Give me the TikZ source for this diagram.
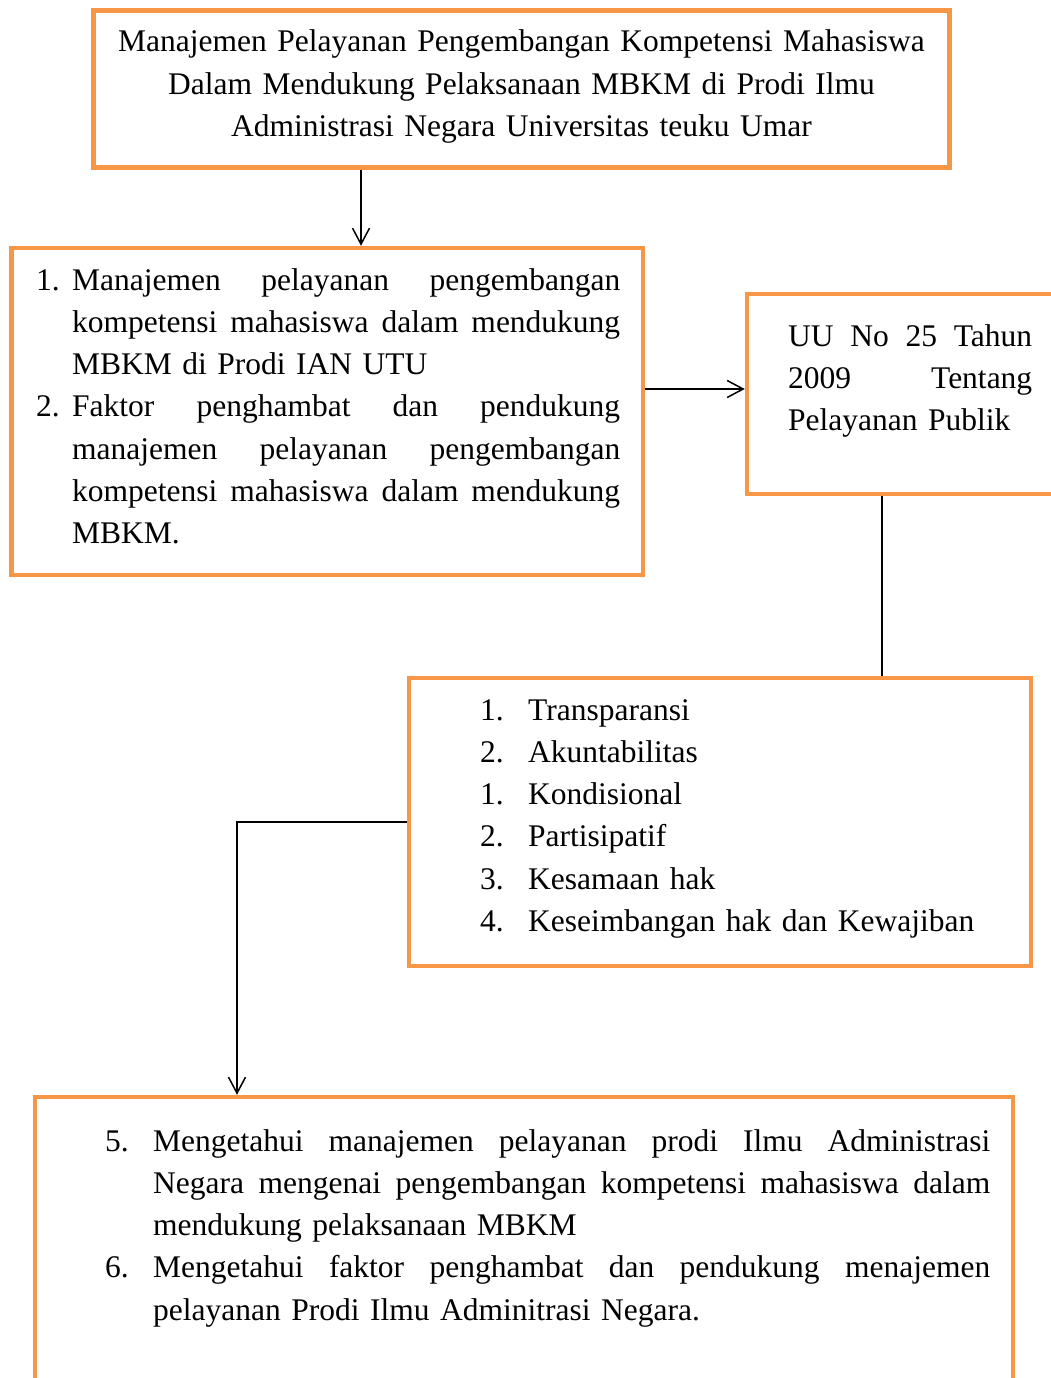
\documentclass[tikz,border=0pt]{standalone}
\usepackage{fontspec}
\setmainfont{Liberation Serif}
\usetikzlibrary{arrows.meta}
\definecolor{oranye}{HTML}{F79646}
\newcommand{\rata}[2]{{\spaceskip=0.25em plus 1fil\makebox[#1][s]{#2}}}
\newcommand{\nomor}[2]{\leavevmode\llap{\makebox[#1][l]{#2}}}

\begin{document}
\begin{tikzpicture}[x=1pt, y=-1pt,
  kotak/.style={draw=oranye, line width=4.5pt, inner sep=0pt},
  isi/.style={inner sep=0pt, anchor=base west, align=left,
    font=\fontsize{31.5}{42.3}\selectfont},
  garis/.style={line width=1.5pt},
  panah/.style={garis, -{Straight Barb[length=16pt, width=17pt]}}]
\useasboundingbox (0,0) rectangle (1051,1378);
\clip (0,0) rectangle (1051,1378);
\fill[white] (0,0) rectangle (1051,1378);
% kotak-kotak
\node[kotak, minimum width=856pt, minimum height=157pt] (judul) at (521.5,89) {};
\node[kotak, minimum width=631.5pt, minimum height=327pt] (rumusan) at (327.25,411.5) {};
\node[kotak, minimum width=311pt, minimum height=200pt] (uu) at (902.5,394) {};
\node[kotak, minimum width=622pt, minimum height=288pt] (prinsip) at (720,822) {};
\node[kotak, minimum width=978pt, minimum height=303pt] (tujuan) at (524,1248.5) {};
% teks
\node[isi, anchor=base, text width=857pt, align=center] (teksjudul) at (521.5,52)
  {Manajemen Pelayanan Pengembangan Kompetensi Mahasiswa\\
   Dalam Mendukung Pelaksanaan MBKM di Prodi Ilmu\\
   Administrasi Negara Universitas teuku Umar};
\node[isi, text width=548pt] (teksrumusan) at (72,290)
  {\nomor{36pt}{1.}\rata{548pt}{Manajemen pelayanan pengembangan}\\
   \rata{548pt}{kompetensi mahasiswa dalam mendukung}\\
   MBKM di Prodi IAN UTU\\
   \nomor{36pt}{2.}\rata{548pt}{Faktor penghambat dan pendukung}\\
   \rata{548pt}{manajemen pelayanan pengembangan}\\
   \rata{548pt}{kompetensi mahasiswa dalam mendukung}\\
   MBKM.};
\node[isi, text width=244pt] (teksuu) at (788,346)
  {\rata{244pt}{UU No 25 Tahun}\\
   \rata{244pt}{2009 Tentang}\\
   Pelayanan Publik};
\node[isi, text width=500pt] (teksprinsip) at (528,720)
  {\nomor{48pt}{1.}Transparansi\\
   \nomor{48pt}{2.}Akuntabilitas\\
   \nomor{48pt}{1.}Kondisional\\
   \nomor{48pt}{2.}Partisipatif\\
   \nomor{48pt}{3.}Kesamaan hak\\
   \nomor{48pt}{4.}Keseimbangan hak dan Kewajiban};
\node[isi, text width=837pt] (tekstujuan) at (153,1151)
  {\nomor{48pt}{5.}\rata{837pt}{Mengetahui manajemen pelayanan prodi Ilmu Administrasi}\\
   \rata{837pt}{Negara mengenai pengembangan kompetensi mahasiswa dalam}\\
   mendukung pelaksanaan MBKM\\
   \nomor{48pt}{6.}\rata{837pt}{Mengetahui faktor penghambat dan pendukung menajemen}\\
   pelayanan Prodi Ilmu Adminitrasi Negara.};
% penghubung
\coordinate (x1) at (361,0);
\coordinate (y2) at (0,389);
\coordinate (x3) at (882,0);
\coordinate (x4) at (237,0);
\draw[panah] (judul.south -| x1) -- (rumusan.north -| x1);
\draw[panah] (rumusan.east |- y2) -- (uu.west |- y2);
\draw[garis] (uu.south -| x3) -- (prinsip.north -| x3);
\draw[panah] (prinsip.west) -| (tujuan.north -| x4);
\end{tikzpicture}
\end{document}
